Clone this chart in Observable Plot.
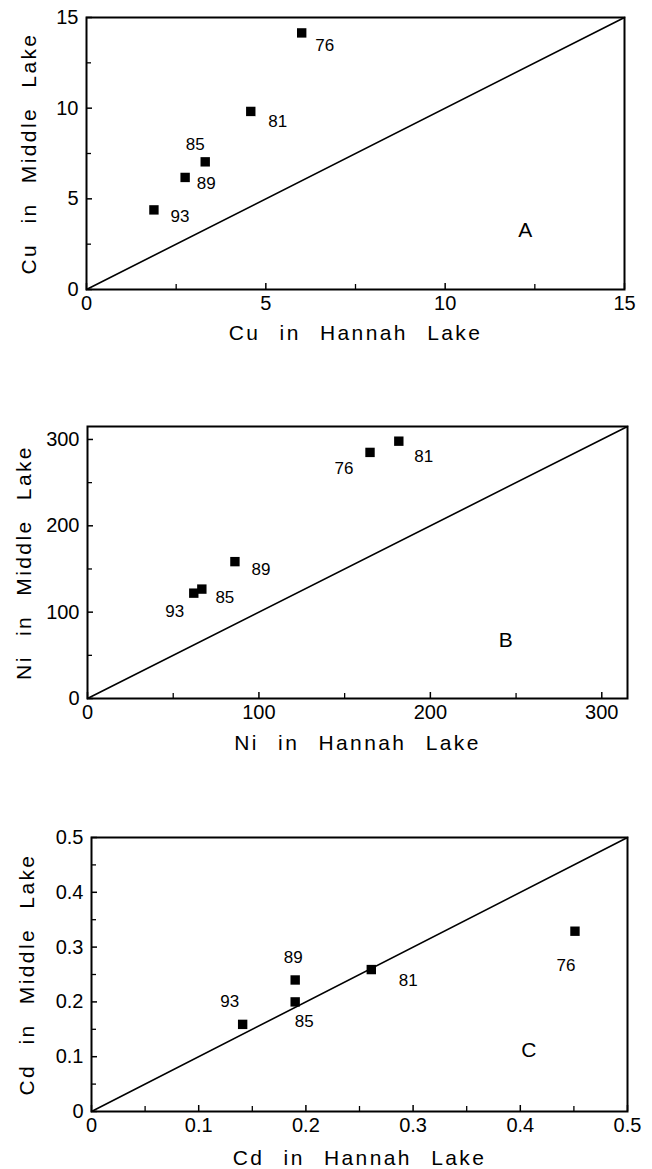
<!DOCTYPE html>
<html>
<head>
<meta charset="utf-8">
<script src="https://cdn.jsdelivr.net/npm/d3@7"></script>
<script src="https://cdn.jsdelivr.net/npm/@observablehq/plot@0.6"></script>
<style>
  html, body { margin: 0; padding: 0; background: #fff; }
  body { width: 652px; height: 1169px; position: relative; overflow: hidden; }
  .panel { position: absolute; left: 0; }
  .panel svg { display: block; }
</style>
</head>
<body>
<div id="pa" class="panel" style="top:0px"></div>
<div id="pb" class="panel" style="top:409px"></div>
<div id="pc" class="panel" style="top:820px"></div>
<script>
// ---- data ----
const years = ["76", "81", "85", "89", "93"];

const cuHannah = [6.0, 4.58, 3.31, 2.75, 1.88];
const cuMiddle = [14.15, 9.82, 7.04, 6.18, 4.39];

const niHannah = [164.8, 181.6, 66.7, 86, 62];
const niMiddle = [285, 298, 126.7, 158.5, 122];

const cdHannah = [0.451, 0.261, 0.19, 0.19, 0.141];
const cdMiddle = [0.329, 0.259, 0.20, 0.24, 0.159];

const cuMajor = [0, 5, 10, 15];
const cuMinor = [2.5, 7.5, 12.5];
const niMajor = [0, 100, 200, 300];
const niMinor = [50, 150, 250];
const cdMajor = [0, 0.1, 0.2, 0.3, 0.4, 0.5];
const cdMinor = [0.05, 0.15, 0.25, 0.35, 0.45];

const panelLetters = ["A", "B", "C"];
const xTitles = ["Cu in Hannah Lake", "Ni in Hannah Lake", "Cd in Hannah Lake"];
const yTitles = ["Cu in Middle Lake", "Ni in Middle Lake", "Cd in Middle Lake"];

// label offsets (px) for each year label, order follows `years`
const offsA = [[23, 13], [27, 10], [-10, -17], [21, 6], [26, 7]];
const offsB = [[-26, 16], [25, 15], [23, 8], [26, 8], [-19, 18]];
const offsC = [[-9, 34], [37, 11], [9, 20], [-2, -22], [-13, -23]];

const FONT = "'Liberation Sans', Arial, Helvetica, sans-serif";

function panel(cfg) {
  const {hx, my, max, major, minor, offs, letter, letterPos, xTitle, yTitle,
         height, mTop, mBottom, mLeft, mRight, yTitleDx, xTitleDy, fmt} = cfg;
  const W = 652;
  const plotW = W - mLeft - mRight;
  const plotH = height - mTop - mBottom;
  const pts = years.map((yr, i) => ({yr, x: hx[i], y: my[i]}));
  const marks = [
    // identity line
    Plot.line([[0, 0], [max, max]], {x: d => d[0], y: d => d[1], stroke: "#000", strokeWidth: 1.6}),
    // inward ticks
    Plot.tickX(major, {x: d => d, insetTop: plotH - 6, stroke: "#000", strokeWidth: 1.5}),
    Plot.tickX(minor, {x: d => d, insetTop: plotH - 5, stroke: "#000", strokeWidth: 1.3}),
    Plot.tickY(major, {y: d => d, insetRight: plotW - 6, stroke: "#000", strokeWidth: 1.5}),
    Plot.tickY(minor, {y: d => d, insetRight: plotW - 5, stroke: "#000", strokeWidth: 1.3}),
    Plot.frame({stroke: "#000", strokeWidth: 2}),
    Plot.axisX({ticks: major, tickSize: 0, tickPadding: 6, tickFormat: fmt, fontSize: 20, fill: "#000", label: null}),
    Plot.axisY({ticks: major, tickSize: 0, tickPadding: 8, tickFormat: fmt, fontSize: 20, fill: "#000", label: null}),
    Plot.dot(pts, {x: "x", y: "y", symbol: "square", r: 5.3, fill: "#000", stroke: "none"}),
    ...pts.map((p, i) => Plot.text([p], {x: "x", y: "y", text: "yr", dx: offs[i][0], dy: offs[i][1], fontSize: 17, fill: "#000"})),
    Plot.text([letter], {x: () => letterPos[0], y: () => letterPos[1], text: d => d, fontSize: 21, fill: "#000"}),
    Plot.text([xTitle], {frameAnchor: "bottom", textAnchor: "middle", lineAnchor: "middle", text: d => d, dy: xTitleDy, fontSize: 21, fill: "#000"}),
    Plot.text([yTitle], {frameAnchor: "left", textAnchor: "middle", lineAnchor: "middle", text: d => d, dx: yTitleDx, rotate: -90, fontSize: 21, fill: "#000"})
  ];
  const svg = Plot.plot({
    width: W, height,
    marginTop: mTop, marginBottom: mBottom, marginLeft: mLeft, marginRight: mRight,
    style: {fontFamily: FONT, background: "#fff", color: "#000"},
    x: {domain: [0, max], axis: null},
    y: {domain: [0, max], axis: null},
    marks
  });
  d3.select(svg).selectAll("text").each(function () {
    const t = this.textContent;
    if (t === xTitle || t === yTitle) {
      this.setAttribute("letter-spacing", "2.4px");
      this.setAttribute("word-spacing", "11px");
    }
  });
  return svg;
}

const fmtInt = d => String(d);

document.getElementById("pa").append(panel({
  hx: cuHannah, my: cuMiddle, max: 15, major: cuMajor, minor: cuMinor, offs: offsA,
  letter: panelLetters[0], letterPos: [12.23, 3.25], xTitle: xTitles[0], yTitle: yTitles[0],
  height: 380, mTop: 17, mBottom: 91, mLeft: 86, mRight: 28, yTitleDx: -57, xTitleDy: 44, fmt: fmtInt
}));
document.getElementById("pb").append(panel({
  hx: niHannah, my: niMiddle, max: 315, major: niMajor, minor: niMinor, offs: offsB,
  letter: panelLetters[1], letterPos: [244, 67], xTitle: xTitles[1], yTitle: yTitles[1],
  height: 380, mTop: 17, mBottom: 91, mLeft: 87, mRight: 25, yTitleDx: -63, xTitleDy: 45, fmt: fmtInt
}));
document.getElementById("pc").append(panel({
  hx: cdHannah, my: cdMiddle, max: 0.5, major: cdMajor, minor: cdMinor, offs: offsC,
  letter: panelLetters[2], letterPos: [0.408, 0.111], xTitle: xTitles[2], yTitle: yTitles[2],
  height: 349, mTop: 17, mBottom: 58, mLeft: 91, mRight: 25, yTitleDx: -64, xTitleDy: 47, fmt: fmtInt
}));
</script>
</body>
</html>
